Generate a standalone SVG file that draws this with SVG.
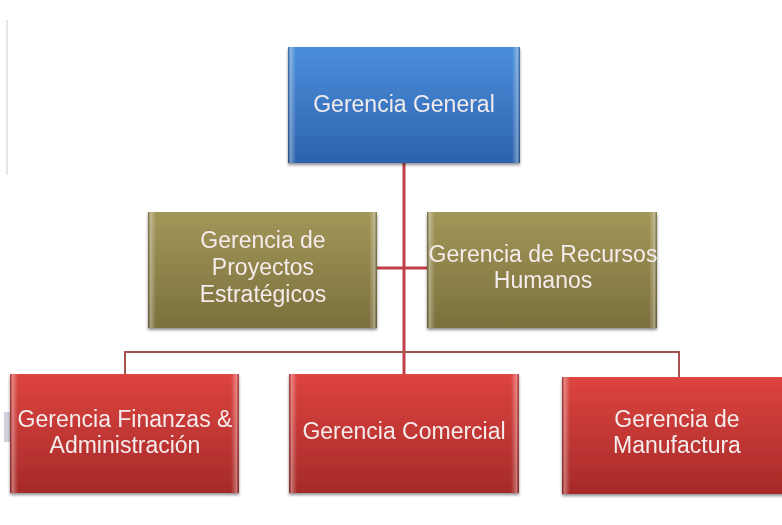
<svg xmlns="http://www.w3.org/2000/svg" width="782" height="525" viewBox="0 0 782 525">
<defs>
<linearGradient id="gBlue" x1="0" y1="0" x2="0" y2="1">
<stop offset="0" stop-color="#4b8edb"/><stop offset="1" stop-color="#2d62ad"/>
</linearGradient>
<linearGradient id="gOlive" x1="0" y1="0" x2="0" y2="1">
<stop offset="0" stop-color="#a29658"/><stop offset="1" stop-color="#7b703c"/>
</linearGradient>
<linearGradient id="gRed" x1="0" y1="0" x2="0" y2="1">
<stop offset="0" stop-color="#dd4440"/><stop offset="1" stop-color="#a62a28"/>
</linearGradient>
<linearGradient id="gEdge" x1="0" y1="0" x2="1" y2="0">
<stop offset="0" stop-color="#000" stop-opacity="0.25"/><stop offset="0.3" stop-color="#fff" stop-opacity="0.35"/><stop offset="1" stop-color="#fff" stop-opacity="0"/>
</linearGradient>
<linearGradient id="gEdgeR" x1="1" y1="0" x2="0" y2="0">
<stop offset="0" stop-color="#000" stop-opacity="0.25"/><stop offset="0.3" stop-color="#fff" stop-opacity="0.35"/><stop offset="1" stop-color="#fff" stop-opacity="0"/>
</linearGradient>
<filter id="sh" x="-5%" y="-5%" width="110%" height="115%">
<feGaussianBlur in="SourceAlpha" stdDeviation="1.5"/>
<feOffset dx="0" dy="2" result="o"/>
<feComponentTransfer><feFuncA type="linear" slope="0.45"/></feComponentTransfer>
<feMerge><feMergeNode/><feMergeNode in="SourceGraphic"/></feMerge>
</filter>
</defs>
<style>
.lbl{font-family:"Liberation Sans","Open Sans",Arial,sans-serif;font-size:23px;fill:#f4ecec;text-anchor:middle}
.conn{fill:none;stroke:#a85250;stroke-width:2}
.main{fill:none;stroke:#c0404a;stroke-width:3}
.el{stroke:none}
</style>
<rect width="782" height="525" fill="#fff"/>
<line x1="7" y1="20" x2="7" y2="175" stroke="#dcdde6" stroke-width="1.5"/>
<rect x="4" y="412" width="6" height="30" fill="#a9a3c0" opacity="0.5"/>
<g id="connectors">
<line class="main" x1="404" y1="163" x2="404" y2="374"/>
<line class="main" x1="377" y1="268" x2="427" y2="268"/>
<polyline class="conn" points="125,374 125,352 679,352 679,377"/>
</g>
<g id="n-general" filter="url(#sh)">
<rect x="288" y="47" width="232" height="116" fill="url(#gBlue)"/>
<rect class="el" x="288" y="47" width="8" height="116" fill="url(#gEdge)"/>
<rect class="el" x="512" y="47" width="8" height="116" fill="url(#gEdgeR)"/>
<text class="lbl" x="404" y="112">Gerencia General</text>
</g>
<g id="n-proyectos" filter="url(#sh)">
<rect x="148" y="212" width="229" height="116" fill="url(#gOlive)"/>
<rect class="el" x="148" y="212" width="8" height="116" fill="url(#gEdge)"/>
<rect class="el" x="369" y="212" width="8" height="116" fill="url(#gEdgeR)"/>
<text class="lbl" x="263" y="248">Gerencia de</text>
<text class="lbl" x="263" y="275">Proyectos</text>
<text class="lbl" x="263" y="302">Estratégicos</text>
</g>
<g id="n-rrhh" filter="url(#sh)">
<rect x="427" y="212" width="230" height="116" fill="url(#gOlive)"/>
<rect class="el" x="427" y="212" width="8" height="116" fill="url(#gEdge)"/>
<rect class="el" x="649" y="212" width="8" height="116" fill="url(#gEdgeR)"/>
<text class="lbl" x="543" y="262">Gerencia de Recursos</text>
<text class="lbl" x="543" y="288">Humanos</text>
</g>
<g id="n-finanzas" filter="url(#sh)">
<rect x="10" y="374" width="229" height="119" fill="url(#gRed)"/>
<rect class="el" x="10" y="374" width="8" height="119" fill="url(#gEdge)"/>
<rect class="el" x="231" y="374" width="8" height="119" fill="url(#gEdgeR)"/>
<text class="lbl" x="125" y="427">Gerencia Finanzas &amp;</text>
<text class="lbl" x="125" y="453">Administración</text>
</g>
<g id="n-comercial" filter="url(#sh)">
<rect x="289" y="374" width="230" height="119" fill="url(#gRed)"/>
<rect class="el" x="289" y="374" width="8" height="119" fill="url(#gEdge)"/>
<rect class="el" x="511" y="374" width="8" height="119" fill="url(#gEdgeR)"/>
<text class="lbl" x="404" y="439">Gerencia Comercial</text>
</g>
<g id="n-manufactura" filter="url(#sh)">
<rect x="562" y="377" width="230" height="117" fill="url(#gRed)"/>
<rect class="el" x="562" y="377" width="8" height="117" fill="url(#gEdge)"/>
<text class="lbl" x="677" y="427">Gerencia de</text>
<text class="lbl" x="677" y="453">Manufactura</text>
</g>
</svg>
